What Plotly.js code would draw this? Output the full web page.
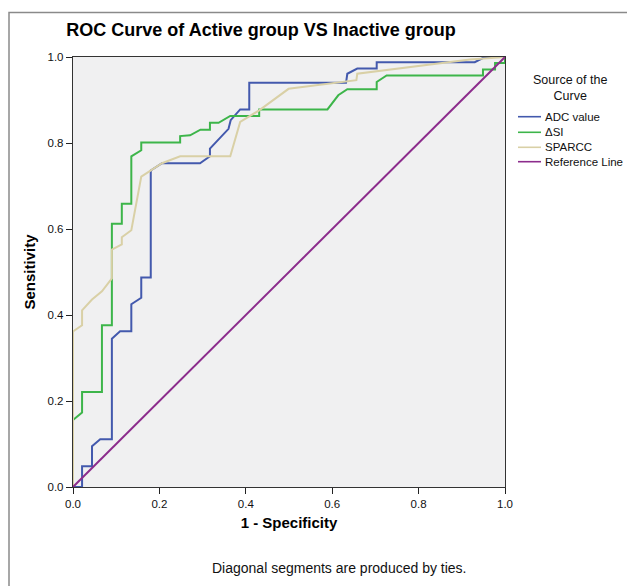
<!DOCTYPE html>
<html>
<head>
<meta charset="utf-8">
<script src="https://cdn.plot.ly/plotly-3.0.1.min.js"></script>
<style>html,body{margin:0;padding:0;background:#fff;}#chart{width:627px;height:586px;}</style>
</head>
<body>
<div id="chart"></div>
<script>
// ---- data ----
var seriesNames = ["ADC value", "\u0394SI", "SPARCC", "Reference Line"];

var adcX = [0, 0.021, 0.021, 0.044, 0.044, 0.063, 0.090, 0.090, 0.109, 0.135, 0.135, 0.158, 0.158, 0.180, 0.180, 0.206, 0.294, 0.317, 0.317, 0.360, 0.365, 0.387, 0.408, 0.408, 0.632, 0.635, 0.658, 0.703, 0.703, 0.930, 0.953, 1.0];
var adcY = [0, 0, 0.048, 0.048, 0.095, 0.111, 0.111, 0.345, 0.362, 0.362, 0.425, 0.440, 0.487, 0.487, 0.736, 0.753, 0.753, 0.769, 0.787, 0.833, 0.853, 0.878, 0.878, 0.940, 0.940, 0.961, 0.973, 0.973, 0.988, 0.988, 1.0, 1.0];

var dsiX = [0, 0, 0.021, 0.021, 0.067, 0.067, 0.090, 0.090, 0.113, 0.113, 0.135, 0.135, 0.158, 0.158, 0.248, 0.248, 0.271, 0.295, 0.317, 0.317, 0.337, 0.364, 0.431, 0.431, 0.589, 0.614, 0.635, 0.703, 0.703, 0.726, 0.949, 0.949, 0.977, 0.977, 1.0, 1.0];
var dsiY = [0, 0.156, 0.173, 0.221, 0.221, 0.376, 0.376, 0.612, 0.612, 0.659, 0.659, 0.769, 0.783, 0.801, 0.801, 0.816, 0.818, 0.831, 0.831, 0.847, 0.847, 0.863, 0.863, 0.878, 0.878, 0.911, 0.925, 0.925, 0.942, 0.957, 0.957, 0.971, 0.971, 0.986, 0.986, 1.0];

var sparccX = [0, 0, 0.021, 0.021, 0.044, 0.067, 0.090, 0.090, 0.113, 0.113, 0.135, 0.158, 0.206, 0.248, 0.364, 0.387, 0.431, 0.499, 0.656, 0.658, 0.919, 1.0];
var sparccY = [0, 0.362, 0.376, 0.411, 0.436, 0.455, 0.485, 0.552, 0.564, 0.581, 0.597, 0.722, 0.753, 0.769, 0.769, 0.849, 0.876, 0.926, 0.946, 0.961, 0.994, 1.0];

var refX = [0, 1];
var refY = [0, 1];

var tickVals = [0, 0.2, 0.4, 0.6, 0.8, 1.0];
var tickText = ["0.0", "0.2", "0.4", "0.6", "0.8", "1.0"];

// ---- styles ----
var colors = ["#4359ad", "#3db54a", "#d9d0a6", "#8c2c8c"];
var FONT = "Liberation Sans, Arial, sans-serif";

var xs = [adcX, dsiX, sparccX, refX];
var ys = [adcY, dsiY, sparccY, refY];
var traces = [];
for (var i = 0; i < 4; i++) {
  traces.push({
    x: xs[i], y: ys[i], type: "scatter", mode: "lines", name: seriesNames[i],
    line: {color: colors[i], width: 2, shape: "linear"},
    hoverinfo: "skip", cliponaxis: true
  });
}

// px -> paper helpers for legend/border (plot area: 73..505 x, 57..487 y)
function px(x) { return (x - 73) / 432; }
function py(y) { return (487 - y) / 430; }

var shapes = [{
  type: "rect", xref: "paper", yref: "paper",
  x0: px(9), x1: px(650), y0: py(12.5), y1: py(620),
  line: {color: "#8a8a8a", width: 1.5}, fillcolor: "rgba(0,0,0,0)", layer: "below"
}];
var annotations = [];
var legY = [116.7, 132.3, 147.3, 161.7];
for (var k = 0; k < 4; k++) {
  shapes.push({
    type: "line", xref: "paper", yref: "paper",
    x0: px(518), x1: px(541), y0: py(legY[k]), y1: py(legY[k]),
    line: {color: colors[k], width: 1.6}
  });
  annotations.push({
    xref: "paper", yref: "paper", x: px(542.5), y: py(legY[k]),
    xanchor: "left", yanchor: "middle", showarrow: false,
    text: seriesNames[k], font: {family: FONT, size: 11.5, color: "#111"}
  });
}
annotations.push({
  xref: "paper", yref: "paper", x: px(569.5), y: py(88.5),
  xanchor: "center", yanchor: "middle", showarrow: false, align: "center",
  text: "Source of the<br>Curve", font: {family: FONT, size: 12.5, color: "#111"}
});
annotations.push({
  xref: "paper", yref: "paper", x: px(339), y: py(568),
  xanchor: "center", yanchor: "middle", showarrow: false,
  text: "Diagonal segments are produced by ties.", font: {family: FONT, size: 14, color: "#111"}
});

var axisCommon = {
  range: [0, 1], tickmode: "array", tickvals: tickVals, ticktext: tickText,
  ticks: "outside", ticklen: 6, tickwidth: 1, tickcolor: "#222",
  showline: true, linecolor: "#333", linewidth: 1.2, mirror: true,
  showgrid: false, zeroline: false, fixedrange: true,
  tickfont: {family: FONT, size: 11.5, color: "#111"}
};

var layout = {
  width: 627, height: 586,
  margin: {l: 73, r: 122, t: 57, b: 99, pad: 0},
  paper_bgcolor: "#ffffff", plot_bgcolor: "#f0f0f1",
  showlegend: false,
  title: {
    text: "<b>ROC Curve of Active group VS Inactive group</b>",
    font: {family: FONT, size: 18, color: "#000"},
    x: 261 / 627, xref: "container", xanchor: "center",
    y: 1 - 30 / 586, yref: "container", yanchor: "middle"
  },
  xaxis: Object.assign({}, axisCommon, {
    title: {text: "<b>1 - Specificity</b>", font: {family: FONT, size: 15, color: "#000"}, standoff: 8}
  }),
  yaxis: Object.assign({}, axisCommon, {
    title: {text: "<b>Sensitivity</b>", font: {family: FONT, size: 15, color: "#000"}, standoff: 8}
  }),
  shapes: shapes,
  annotations: annotations
};

Plotly.newPlot("chart", traces, layout, {staticPlot: true, displayModeBar: false});
</script>
</body>
</html>
